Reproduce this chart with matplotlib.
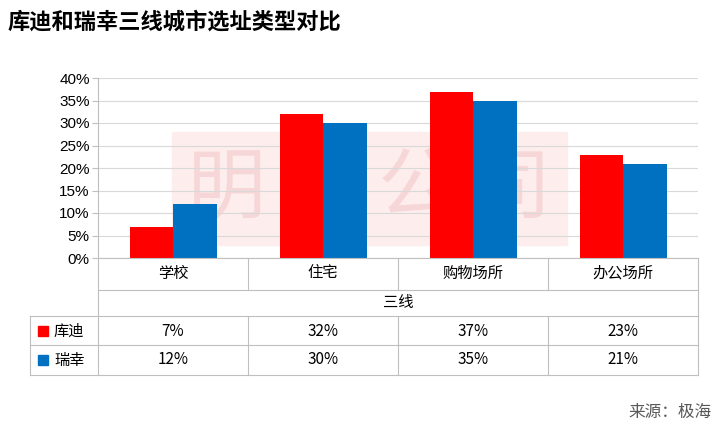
import matplotlib.pyplot as plt
import numpy as np
from matplotlib.patches import Rectangle

plt.rcParams["font.family"] = ["Noto Sans CJK SC"]

categories = ["学校", "住宅", "购物场所", "办公场所"]
group_label = "三线"
kudi = [7, 32, 37, 23]
ruixing = [12, 30, 35, 21]
series_names = ["库迪", "瑞幸"]
colors = ["#FF0000", "#0070C0"]

W, H = 722, 434
fig = plt.figure(figsize=(W / 100, H / 100), dpi=100)

def fx(px):
    return px / W

def fy(py):
    return 1 - py / H

# watermark, behind the axes
fig.patches.append(Rectangle((fx(172), fy(245)), fx(567) - fx(172), fy(132) - fy(245),
                             transform=fig.transFigure, color="#FDEDED", zorder=-2))
fig.text(fx(370), fy(190), "明 亮 公 司", fontsize=56, color="#F6D6D6",
         ha="center", va="center", zorder=-1)

x0, x1, ytop, ybot = 98, 698, 78, 258
ax = fig.add_axes([fx(x0), fy(ybot), fx(x1) - fx(x0), fy(ytop) - fy(ybot)])
ax.patch.set_alpha(0)
x = np.arange(len(categories))
w = 0.29
ax.bar(x - w / 2, kudi, w, color=colors[0], zorder=3)
ax.bar(x + w / 2, ruixing, w, color=colors[1], zorder=3)
ax.set_xlim(-0.5, len(categories) - 0.5)
ax.set_ylim(0, 40)
ax.set_yticks(range(0, 41, 5))
ax.set_yticklabels([f"{v}%" for v in range(0, 41, 5)], fontsize=11, fontfamily="Liberation Sans")
ax.set_xticks([])
ax.grid(axis="y", color="#D9D9D9", lw=0.8, zorder=0)
for s in ["top", "right", "bottom"]:
    ax.spines[s].set_visible(False)
ax.spines["left"].set_color("#BFBFBF")
ax.tick_params(axis="y", length=4, color="#BFBFBF", pad=2)

# table
line = dict(color="#BFBFBF", lw=0.8, transform=fig.transFigure)
colw = (x1 - x0) / len(categories)
fig.add_artist(plt.Line2D([fx(x0), fx(x1)], [fy(258), fy(258)], **line))
fig.add_artist(plt.Line2D([fx(x0), fx(x1)], [fy(290), fy(290)], **line))
for r in [316, 345, 375]:
    fig.add_artist(plt.Line2D([fx(30), fx(x1)], [fy(r), fy(r)], **line))
fig.add_artist(plt.Line2D([fx(30), fx(30)], [fy(316), fy(375)], **line))
fig.add_artist(plt.Line2D([fx(x0), fx(x0)], [fy(258), fy(375)], **line))
fig.add_artist(plt.Line2D([fx(x1), fx(x1)], [fy(258), fy(375)], **line))
for i in range(1, len(categories)):
    xx = x0 + colw * i
    fig.add_artist(plt.Line2D([fx(xx), fx(xx)], [fy(258), fy(290)], **line))
    fig.add_artist(plt.Line2D([fx(xx), fx(xx)], [fy(316), fy(375)], **line))

for i, c in enumerate(categories):
    cx = x0 + colw * (i + 0.5)
    fig.text(fx(cx), fy(273), c, ha="center", va="center", fontsize=11)
    fig.text(fx(cx), fy(331), f"{kudi[i]}%", ha="center", va="center", fontsize=11)
    fig.text(fx(cx), fy(360), f"{ruixing[i]}%", ha="center", va="center", fontsize=11)
fig.text(fx((x0 + x1) / 2), fy(302), group_label, ha="center", va="center", fontsize=11)

for j, (name, ry) in enumerate(zip(series_names, [331, 360])):
    fig.patches.append(Rectangle((fx(38), fy(ry + 5)), fx(10), 10 / H,
                                 transform=fig.transFigure, color=colors[j]))
    fig.text(fx(54), fy(ry), name, ha="left", va="center", fontsize=11)

fig.text(fx(8), fy(22), "库迪和瑞幸三线城市选址类型对比", fontsize=16, fontweight="bold",
         ha="left", va="center")
fig.text(fx(712), fy(412), "来源：极海", fontsize=12, color="#595959", ha="right", va="center")

fig.savefig("out.png", dpi=100)
